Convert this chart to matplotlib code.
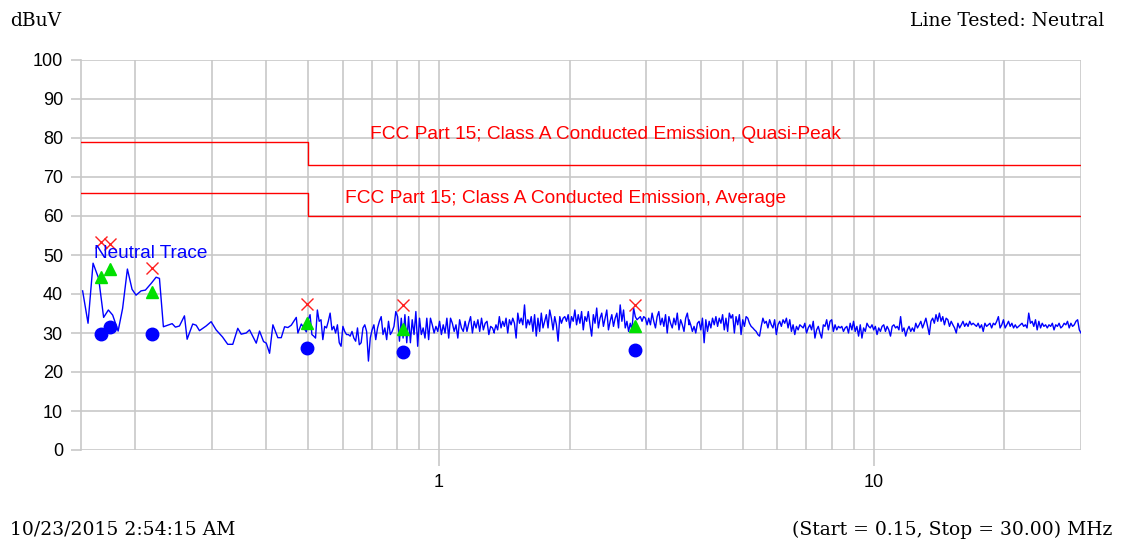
import numpy as np
import matplotlib
matplotlib.use('Agg')
import matplotlib.pyplot as plt
from matplotlib.ticker import FixedLocator, NullFormatter

plt.rcParams['font.family'] = ['Liberation Sans', 'DejaVu Sans']

# limit lines (MHz, dBuV)
qp_freq = [0.15, 0.5, 0.5, 30.0]
qp_limit = [79, 79, 73, 73]
avg_freq = [0.15, 0.5, 0.5, 30.0]
avg_limit = [66, 66, 60, 60]

# low part of the sweep, read point by point
low_freq = [0.1513, 0.1557, 0.1599, 0.1647, 0.1691, 0.1734, 0.1774, 0.1826, 0.1870, 0.1918,
            0.1966, 0.2008, 0.2062, 0.2110, 0.2175, 0.2233, 0.2273, 0.2321, 0.2375, 0.2431,
            0.2474, 0.2527, 0.2595, 0.2632, 0.2711, 0.2761, 0.2810, 0.2911, 0.2989, 0.3069,
            0.3174, 0.3264, 0.3352, 0.3442, 0.3505, 0.3599, 0.3663, 0.3796, 0.3863, 0.3946,
            0.4003, 0.4074, 0.4146, 0.4256, 0.4334, 0.4411, 0.4489, 0.4570, 0.4693, 0.4733,
            0.4820, 0.4949]
low_level = [40.8, 32.5, 47.9, 44.0, 34.0, 35.9, 34.6, 30.5, 36.3, 46.4,
             41.2, 39.7, 40.8, 41.0, 42.7, 44.3, 44.0, 31.6, 32.0, 32.4,
             31.5, 31.8, 34.4, 28.4, 32.3, 32.0, 30.6, 31.8, 32.9, 30.8,
             29.0, 27.1, 27.1, 31.2, 29.7, 30.0, 30.8, 27.4, 30.5, 27.8,
             27.4, 24.8, 32.1, 28.8, 28.8, 31.6, 31.4, 32.0, 34.0, 30.0,
             32.3, 30.3]

# upper part of the sweep, four stretches between these edges (MHz)
seg_edges = [0.5, 1.34, 3.76, 10.55, 30.0]
seg1 = [33.4, 34.7, 29.6, 29.2, 28.7, 35.9, 33.0, 33.4, 28.3, 31.7, 31.3, 33.0, 35.1, 30.8, 31.7,
        30.0, 32.1, 27.5, 26.6, 31.7, 30.4, 29.6, 29.6, 29.2, 30.4, 28.7, 27.9, 31.3, 27.0, 27.5,
        31.3, 32.1, 30.4, 22.8, 28.7, 30.8, 32.1, 28.3, 31.3, 33.0, 34.2, 29.6, 31.3, 28.3, 33.0,
        29.6, 30.4, 31.7, 35.5, 34.2, 27.9, 33.8, 28.7, 34.7, 27.5, 34.2, 27.5, 33.4, 29.6, 35.5,
        26.6, 33.8, 29.6, 31.3, 28.7, 33.8, 28.3, 33.8, 32.1, 30.0, 31.7, 30.4, 33.0, 29.6, 32.1,
        30.0, 33.8, 28.7, 33.8, 32.5, 30.4, 32.1, 28.7, 33.4, 31.3, 30.4, 33.0, 30.4, 32.5, 34.2,
        30.0, 33.0, 31.3, 33.4, 30.4, 33.8, 30.8, 32.5, 33.0, 29.6, 31.7, 31.3, 30.0]
seg2 = [30.4, 32.1, 30.8, 34.2, 31.3, 33.0, 31.7, 33.8, 30.0, 33.4, 32.1, 33.8, 32.5, 28.7, 35.1,
        32.5, 33.8, 32.1, 37.2, 31.3, 33.4, 32.1, 34.2, 30.4, 34.7, 29.2, 33.8, 30.4, 35.1, 31.3,
        33.0, 34.7, 31.3, 35.9, 33.8, 30.8, 34.2, 32.1, 27.9, 34.2, 32.5, 33.8, 34.2, 33.0, 34.7,
        31.3, 34.2, 33.0, 35.9, 32.1, 34.7, 32.5, 35.5, 30.8, 34.2, 33.0, 35.5, 32.1, 29.2, 34.7,
        32.5, 36.4, 31.3, 33.8, 35.1, 31.7, 33.8, 35.9, 30.8, 33.0, 34.7, 31.7, 33.8, 35.1, 31.3,
        37.2, 33.0, 35.9, 31.3, 33.0, 30.4, 32.5, 30.8, 36.4, 34.2, 33.4, 33.8, 34.2, 33.0, 34.2,
        33.8, 32.1, 33.8, 32.1, 35.1, 33.0, 31.3, 34.2, 35.5, 32.1, 33.8, 31.7, 34.7, 30.0, 34.2,
        32.5, 31.3, 33.8, 32.1, 35.1, 30.8, 33.4, 32.1, 30.4, 33.8, 35.1, 32.1]
seg3 = [33.4, 32.1, 30.4, 31.7, 30.0, 32.5, 33.0, 30.8, 33.8, 27.5, 33.4, 30.4, 33.0, 31.3, 33.8,
        32.1, 34.2, 31.7, 33.8, 32.5, 34.7, 30.8, 33.8, 30.4, 35.1, 33.8, 34.7, 30.0, 34.2, 32.1,
        34.7, 29.6, 33.4, 31.7, 34.2, 33.8, 32.5, 31.7, 31.3, 30.8, 30.4, 29.6, 29.2, 31.7, 33.8,
        32.5, 33.0, 31.3, 33.4, 32.1, 31.3, 33.4, 29.6, 32.1, 33.0, 31.7, 33.4, 32.5, 33.8, 31.3,
        33.4, 30.4, 32.1, 29.6, 31.7, 30.8, 32.1, 31.7, 31.3, 32.5, 30.0, 31.3, 32.1, 30.8, 33.0,
        28.7, 30.8, 31.7, 30.0, 28.7, 32.1, 31.7, 33.4, 30.8, 33.0, 33.4, 30.4, 32.1, 30.8, 31.7,
        31.3, 31.7, 30.4, 31.3, 31.7, 30.0, 32.5, 30.8, 33.0, 30.4, 31.7, 29.2, 32.1, 28.7, 31.3,
        30.4, 32.5, 31.7, 31.3, 32.1, 30.8, 31.7, 29.6, 31.3, 30.4, 31.7, 32.1]
seg4 = [32.1, 30.4, 31.7, 30.8, 29.2, 31.7, 32.1, 31.3, 31.7, 30.8, 34.2, 30.4, 31.3, 29.2, 30.8,
        31.7, 30.4, 31.3, 30.4, 32.5, 31.3, 32.1, 33.0, 31.3, 32.5, 33.8, 31.7, 29.6, 33.0, 33.8,
        32.5, 34.7, 33.0, 35.1, 33.0, 34.2, 32.1, 33.8, 33.4, 31.7, 33.0, 32.1, 31.3, 30.0, 32.5,
        31.3, 32.1, 33.0, 31.7, 32.5, 31.7, 33.0, 32.1, 32.5, 32.1, 31.7, 32.5, 31.3, 32.1, 30.4,
        32.5, 31.7, 32.1, 32.5, 31.3, 32.5, 32.1, 33.0, 34.2, 31.3, 32.1, 33.4, 31.3, 32.1, 33.0,
        31.7, 32.5, 31.3, 32.1, 31.3, 31.7, 32.1, 32.5, 31.7, 32.1, 31.3, 35.1, 32.5, 33.0, 31.7,
        33.4, 30.8, 33.0, 31.3, 32.5, 31.7, 32.1, 31.3, 32.1, 31.7, 32.5, 30.8, 32.1, 31.7, 32.5,
        31.3, 31.7, 32.5, 32.1, 33.0, 31.3, 32.5, 31.7, 32.1, 33.0, 33.4, 30.8, 30.0]

# final scan results
peak_freq = [0.167, 0.175, 0.219, 0.498, 0.825, 2.82]
peak_level = [53.3, 52.8, 46.7, 37.4, 37.2, 37.2]
qp_level = [44.4, 46.4, 40.5, 32.6, 31.0, 31.8]
avg_level = [29.7, 31.5, 29.7, 26.2, 25.1, 25.6]

segs = [seg1, seg2, seg3, seg4]
trace_freq = list(low_freq)
trace_level = list(low_level)
for i, s in enumerate(segs):
    trace_freq += list(np.geomspace(seg_edges[i], seg_edges[i + 1], len(s)))
    trace_level += s

fig = plt.figure(figsize=(11.21, 5.43), dpi=100)
ax = fig.add_axes([81 / 1121, 1 - 450 / 543, 1000 / 1121, 390 / 543])

grid_c = '#c8c8c8'
ax.plot(qp_freq, qp_limit, color='#ff0000', lw=1.0, zorder=3)
ax.plot(avg_freq, avg_limit, color='#ff0000', lw=1.0, zorder=3)
ax.plot(trace_freq, trace_level, color='#0000ff', lw=1.0, zorder=4)
ax.plot(peak_freq, avg_level, 'o', color='#0000ff', ms=9, zorder=5)
ax.plot(peak_freq, qp_level, '^', color='#00e000', ms=9, zorder=6)
ax.plot(peak_freq, peak_level, 'x', color='#ff2020', ms=9, mew=1.0, zorder=7)

ax.text(0.692, 81.0, 'FCC Part 15; Class A Conducted Emission, Quasi-Peak', color='#ff0000',
        fontsize=13.8, va='center', ha='left', zorder=8)
ax.text(0.609, 64.6, 'FCC Part 15; Class A Conducted Emission, Average', color='#ff0000',
        fontsize=13.8, va='center', ha='left', zorder=8)
ax.text(0.161, 50.5, 'Neutral Trace', color='#0000ff', fontsize=13.7, va='center', ha='left', zorder=8)

ax.set_xscale('log')
ax.set_xlim(0.15, 30)
ax.set_ylim(0, 100)
ax.set_yticks(range(0, 101, 10))
ax.xaxis.set_major_locator(FixedLocator([1, 10]))
ax.xaxis.set_minor_locator(FixedLocator([0.2, 0.3, 0.4, 0.5, 0.6, 0.7, 0.8, 0.9,
                                         2, 3, 4, 5, 6, 7, 8, 9, 20, 30]))
ax.xaxis.set_minor_formatter(NullFormatter())
ax.set_xticklabels(['1', '10'])
ax.grid(True, which='both', color=grid_c, lw=1.2)
ax.set_axisbelow(True)
for sp in ['top', 'right', 'bottom']:
    ax.spines[sp].set_visible(False)
ax.spines['left'].set_color(grid_c)
ax.spines['left'].set_linewidth(1.2)
ax.tick_params(axis='y', length=7, width=1.2, color=grid_c, labelsize=13, pad=6)
ax.tick_params(axis='x', which='major', length=11.5, width=1.2, color=grid_c, labelsize=13, pad=6)
ax.tick_params(axis='x', which='minor', length=0)

serif = ['DejaVu Serif', 'Liberation Serif']
fig.text(10 / 1121, 1 - 21 / 543, 'dBuV', family=serif, fontsize=13.5, va='center', ha='left')
fig.text(1104 / 1121, 1 - 21 / 543, 'Line Tested: Neutral', family=serif, fontsize=13.5, va='center', ha='right')
fig.text(10 / 1121, 1 - 530 / 543, '10/23/2015 2:54:15 AM', family=serif, fontsize=13.5, va='center', ha='left')
fig.text(1112 / 1121, 1 - 530 / 543, '(Start = 0.15, Stop = 30.00) MHz', family=serif, fontsize=13.5,
         va='center', ha='right')

fig.savefig('out.png', dpi=100)
